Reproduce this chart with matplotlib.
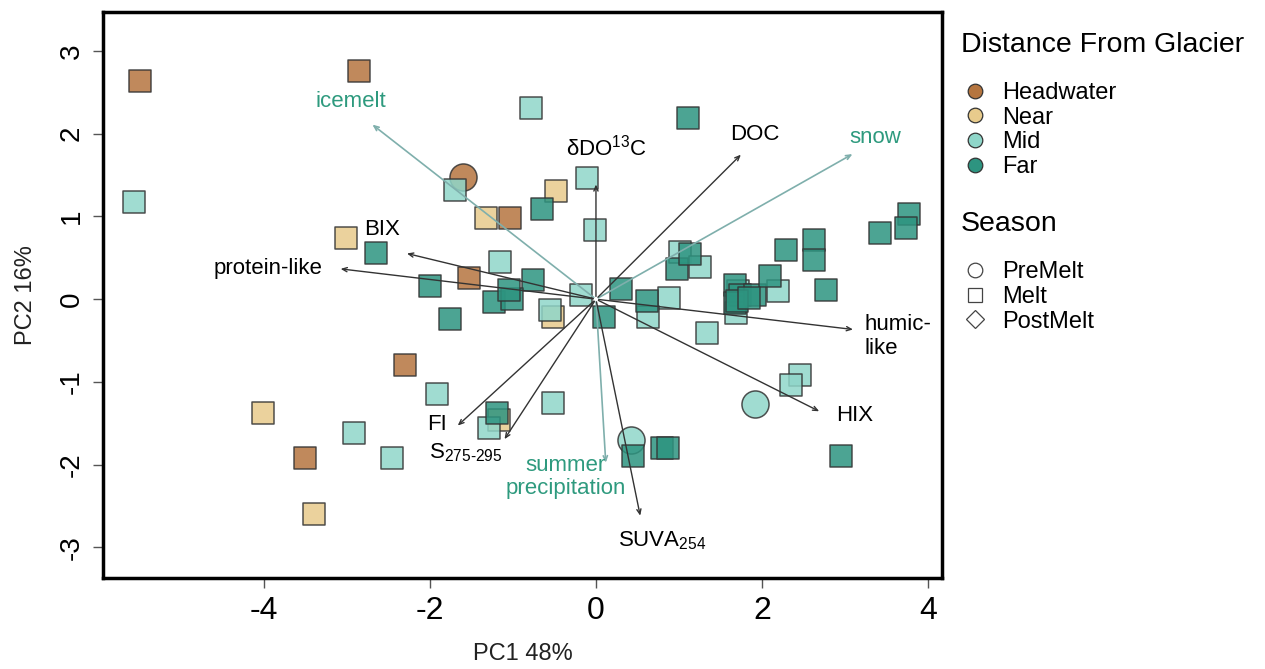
import numpy as np
import matplotlib.pyplot as plt
from matplotlib.lines import Line2D

plt.rcParams['font.family'] = ['Liberation Sans', 'DejaVu Sans']
plt.rcParams['mathtext.fontset'] = 'custom'
plt.rcParams['mathtext.rm'] = 'Liberation Sans'
plt.rcParams['mathtext.it'] = 'Liberation Sans:italic'

# sample scores on the first two principal components
pc1 = [-5.49, -2.86, -1.60, -1.04, -1.53, -2.30, -3.51,
       -3.01, -1.33, -0.48, -0.52, -4.01, -1.17, -3.40,
       -5.57, -0.78, -1.70, -0.11, -0.01, -1.16, -0.18, -0.55, -1.92, -2.92,
       -2.46, -0.52, -1.29, 1.34, 1.01, 1.25, 0.88, 0.63, 1.69, 2.19, 2.46,
       2.35, 1.92, 0.42, 1.71,
       -2.65, -2.00, -1.76, -0.65, -0.76, -1.23, -1.01, -1.05, 0.30, 0.10,
       0.61, 0.98, 1.13, 1.11, 1.67, 1.73, 1.67, 1.92, 2.10, 2.29, 2.63,
       2.63, 2.77, 3.42, 3.77, 3.73, 2.95, -1.19, 0.45, 0.80, 0.87, 1.70,
       1.85]
pc2 = [2.64, 2.76, 1.48, 0.98, 0.25, -0.80, -1.92,
       0.74, 0.98, 1.31, -0.21, -1.37, -1.46, -2.60,
       1.17, 2.31, 1.32, 1.46, 0.83, 0.45, 0.05, -0.13, -1.15, -1.62,
       -1.92, -1.26, -1.56, -0.41, 0.57, 0.39, 0.02, -0.22, -0.17, 0.10, -0.92,
       -1.04, -1.27, -1.70, 0.10,
       0.56, 0.16, -0.24, 1.09, 0.23, -0.04, 0.00, 0.11, 0.12, -0.21,
       -0.02, 0.37, 0.54, 2.19, 0.17, 0.05, -0.05, 0.05, 0.28, 0.59, 0.71,
       0.47, 0.11, 0.80, 1.03, 0.86, -1.90, -1.38, -1.90, -1.80, -1.80, -0.02,
       0.02]
distance = (["Headwater"] * 7 + ["Near"] * 7 + ["Mid"] * 25 + ["Far"] * 33)
season = (["Melt", "Melt", "PreMelt"] + ["Melt"] * 4 + ["Melt"] * 7
          + ["Melt"] * 22 + ["PreMelt", "PreMelt", "Melt"] + ["Melt"] * 33)

# loading vectors (variables and environmental drivers)
vars_names = ["δDO$^{13}$C", "DOC", "BIX", "protein-like", "humic-\nlike",
              "HIX", "FI", "S$_{275\\text{-}295}$", "SUVA$_{254}$"]
vars_x = [0.00, 1.77, -2.31, -3.11, 3.13, 2.72, -1.69, -1.12, 0.54]
vars_y = [1.42, 1.77, 0.56, 0.37, -0.37, -1.37, -1.55, -1.72, -2.65]
env_names = ["icemelt", "snow", "summer\nprecipitation"]
env_x = [-2.72, 3.12, 0.12]
env_y = [2.13, 1.77, -2.01]

dist_levels = ["Headwater", "Near", "Mid", "Far"]
dist_colors = {"Headwater": "#B5753F", "Near": "#E8CB8C",
               "Mid": "#8FD6C9", "Far": "#2D9480"}
season_levels = ["PreMelt", "Melt", "PostMelt"]
season_markers = {"PreMelt": "o", "Melt": "s", "PostMelt": "D"}
season_sizes = {"PreMelt": 380, "Melt": 260, "PostMelt": 200}

fig = plt.figure(figsize=(12.65, 6.69), dpi=100)
ax = fig.add_axes([0.0814, 0.136, 0.6633, 0.846])

pc1 = np.array(pc1)
pc2 = np.array(pc2)
distance = np.array(distance)
season = np.array(season)
for d in dist_levels:
    for s in season_levels:
        m = (distance == d) & (season == s)
        if m.any():
            ax.scatter(pc1[m], pc2[m], s=season_sizes[s], marker=season_markers[s],
                       facecolor=dist_colors[d], edgecolor="#333333",
                       linewidth=1.1, alpha=0.85, zorder=2)

# arrows
for name, x, y in zip(env_names, env_x, env_y):
    ax.annotate("", xy=(x, y), xytext=(0, 0),
                arrowprops=dict(arrowstyle="->,head_length=0.35,head_width=0.15",
                                color="#7FAFAC", lw=1.2), zorder=3)
for name, x, y in zip(vars_names, vars_x, vars_y):
    ax.annotate("", xy=(x, y), xytext=(0, 0),
                arrowprops=dict(arrowstyle="->,head_length=0.35,head_width=0.15",
                                color="#333333", lw=1.0), zorder=3)

lab_kw = dict(fontsize=16, zorder=4)
env_col = "#2E9A7E"
ax.text(-2.95, 2.39, env_names[0], color=env_col, ha="center", va="center", **lab_kw)
ax.text(3.36, 1.95, env_names[1], color=env_col, ha="center", va="center", **lab_kw)
ax.text(-0.37, -2.15, env_names[2], color=env_col, ha="center", va="center",
        linespacing=1.15, **lab_kw)

ax.text(0.13, 1.83, vars_names[0], ha="center", va="center", **lab_kw)
ax.text(1.92, 1.99, vars_names[1], ha="center", va="center", **lab_kw)
ax.text(-2.58, 0.84, vars_names[2], ha="center", va="center", **lab_kw)
ax.text(-3.30, 0.37, vars_names[3], ha="right", va="center", **lab_kw)
ax.text(3.23, -0.45, vars_names[4], ha="left", va="center", linespacing=1.15, **lab_kw)
ax.text(3.12, -1.40, vars_names[5], ha="center", va="center", **lab_kw)
ax.text(-1.92, -1.52, vars_names[6], ha="center", va="center", **lab_kw)
ax.text(-1.57, -1.85, vars_names[7], ha="center", va="center", **lab_kw)
ax.text(0.80, -2.92, vars_names[8], ha="center", va="center", **lab_kw)

ax.set_xlim(-5.94, 4.17)
ax.set_ylim(-3.37, 3.47)
ax.set_xticks([-4, -2, 0, 2, 4])
ax.set_xticklabels(["-4", "-2", "0", "2", "4"], fontsize=23)
ax.set_yticks([-3, -2, -1, 0, 1, 2, 3])
ax.set_yticklabels(["-3", "-2", "-1", "0", "1", "2", "3"], fontsize=20,
                   rotation=90, va="center")
ax.tick_params(direction="out", length=7, width=1, color="#555555", pad=6)
for sp in ax.spines.values():
    sp.set_linewidth(2.5)
ax.set_xlabel("PC1 48%", fontsize=17, labelpad=12, color="#222222")
ax.set_ylabel("PC2 16%", fontsize=17, labelpad=16, color="#222222")

# legends
dist_handles = [Line2D([], [], marker="o", linestyle="", markersize=10.5,
                       markerfacecolor=dist_colors[d], markeredgecolor="#333333",
                       markeredgewidth=0.9, label=d) for d in dist_levels]
season_handles = [Line2D([], [], marker=season_markers[s], linestyle="",
                         markersize=10.5 if s != "PostMelt" else 9,
                         markerfacecolor="white", markeredgecolor="#444444",
                         markeredgewidth=0.9, label=s) for s in season_levels]
leg_kw = dict(loc="upper left", frameon=False, fontsize=17,
              title_fontsize=20.5, labelspacing=0.12, handletextpad=0.55,
              handlelength=1.2, alignment="left", borderaxespad=0)
leg1 = fig.legend(handles=dist_handles, title="Distance From Glacier",
                  bbox_to_anchor=(0.752, 0.966), **leg_kw)
leg2 = fig.legend(handles=season_handles, title="Season",
                  bbox_to_anchor=(0.752, 0.698), **leg_kw)
for leg in (leg1, leg2):
    leg._legend_box.sep = 17

fig.savefig("out.png", dpi=100)
